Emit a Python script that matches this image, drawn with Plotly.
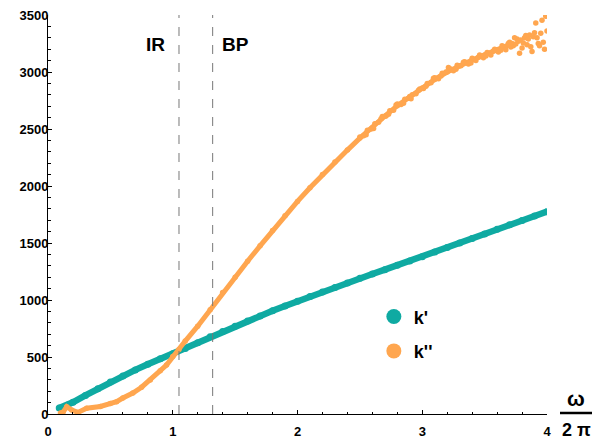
import plotly.graph_objects as go

# k' (storage)
kp_x = [0.09, 0.16, 0.2, 0.3, 0.4, 0.5, 0.6, 0.7, 0.8, 0.9, 1.0, 1.1, 1.2, 1.3, 1.4, 1.5,
        1.6, 1.7, 1.8, 1.9, 2.0, 2.1, 2.2, 2.3, 2.4, 2.5, 2.6, 2.7, 2.8, 2.9, 3.0,
        3.1, 3.2, 3.3, 3.4, 3.5, 3.6, 3.7, 3.8, 3.9, 4.0]
kp_y = [52, 79, 103, 163, 222, 280, 333, 387, 437, 485, 528, 575, 625, 678, 724, 770,
        815, 860, 905, 948, 990, 1030, 1070, 1110, 1150, 1190, 1228, 1266, 1304, 1342, 1380,
        1420, 1460, 1500, 1540, 1580, 1620, 1660, 1698, 1737, 1775]

# k'' (loss) main band
kpp_x = [0.10, 0.12, 0.15, 0.19, 0.24, 0.31, 0.42, 0.5, 0.55, 0.6, 0.68, 0.75, 0.82, 0.9,
         0.95, 1.0, 1.05, 1.1, 1.2, 1.3, 1.4, 1.5, 1.6, 1.7, 1.8, 1.9, 2.0, 2.1, 2.2,
         2.3, 2.4, 2.5, 2.6, 2.7, 2.8, 2.9, 3.0, 3.1, 3.2, 3.3, 3.4, 3.5, 3.6, 3.7]
kpp_y = [8, 15, 64, 35, 14, 50, 66, 92, 108, 140, 184, 235, 298, 380, 430, 505, 565, 640,
         770, 915, 1065, 1200, 1340, 1475, 1610, 1740, 1865, 1985, 2100, 2210, 2315, 2420,
         2510, 2612, 2705, 2785, 2860, 2935, 3000, 3055, 3105, 3150, 3195, 3240]

# k'' scattered points of the noisy high-frequency part
tail_x = [2.50, 2.53, 2.56, 2.59, 2.62, 2.65, 2.68, 2.71, 2.74, 2.77, 2.80, 2.83, 2.86, 2.89,
          2.92, 2.95, 2.98, 3.01, 3.04, 3.07, 3.10, 3.13, 3.16, 3.19, 3.22, 3.25, 3.28, 3.31,
          3.34, 3.37, 3.40, 3.43, 3.46, 3.49, 3.52, 3.55, 3.58, 3.61, 3.64, 3.67, 3.70, 3.73,
          3.76, 3.78, 3.80, 3.82, 3.84, 3.86, 3.88, 3.90, 3.91, 3.93, 3.95, 3.96, 3.98, 3.99,
          4.00, 3.87, 3.97, 3.74, 3.72, 3.83, 3.92,
          2.55, 2.61, 2.67, 2.73, 2.79, 2.85, 2.91, 2.97, 3.03, 3.09, 3.15, 3.21, 3.27, 3.33,
          3.39, 3.45, 3.51, 3.57, 3.63, 3.69, 3.75, 3.79, 3.81, 3.85, 3.89, 3.94, 3.77, 3.71]
tail_y = [2430, 2440, 2490, 2500, 2545, 2560, 2610, 2615, 2660, 2665, 2720, 2715, 2760, 2770,
          2800, 2810, 2850, 2855, 2900, 2905, 2950, 2940, 2990, 3000, 3030, 3010, 3060, 3055,
          3090, 3070, 3120, 3100, 3150, 3125, 3170, 3150, 3200, 3175, 3230, 3195, 3260, 3230,
          3290, 3165, 3210, 3300, 3240, 3325, 3180, 3345, 3430, 3250, 3340, 3455, 3200, 3490,
          3360, 3222, 3262, 3300, 3250, 3320, 3300,
          2450, 2505, 2590, 2630, 2710, 2725, 2765, 2840, 2875, 2945, 2965, 3040, 3025, 3085,
          3080, 3130, 3140, 3185, 3190, 3250, 3245, 3280, 3255, 3290, 3310, 3230, 3270, 3220]

region_x = [1.05, 1.32]
region_labels = ["IR", "BP"]
region_label_x = [0.86, 1.50]
region_label_y = 3240

TEAL = "#0FAAA2"
ORANGE = "#FFA64F"
FONT = "Liberation Sans"

fig = go.Figure()

fig.add_trace(go.Scatter(x=kp_x, y=kp_y, mode="lines+markers", showlegend=False,
                         line=dict(color=TEAL, width=6.5), marker=dict(color=TEAL, size=7)))
fig.add_trace(go.Scatter(x=kpp_x, y=kpp_y, mode="lines+markers", showlegend=False,
                         line=dict(color=ORANGE, width=5), marker=dict(color=ORANGE, size=5.5)))
fig.add_trace(go.Scatter(x=tail_x, y=tail_y, mode="markers", showlegend=False,
                         marker=dict(color=ORANGE, size=5.5)))

# legend entries
fig.add_trace(go.Scatter(x=[None], y=[None], mode="markers", name="k'", legendgroup="a",
                         marker=dict(color=TEAL, size=15)))
fig.add_trace(go.Scatter(x=[None], y=[None], mode="markers", name="k''", legendgroup="b",
                         marker=dict(color=ORANGE, size=15)))

for xv in region_x:
    fig.add_shape(type="line", xref="x", yref="paper", x0=xv, x1=xv, y0=0, y1=1,
                  line=dict(color="#777777", width=1, dash="dash"))
for lx, lab in zip(region_label_x, region_labels):
    fig.add_annotation(x=lx, y=region_label_y, xref="x", yref="y", text=f"<b>{lab}</b>",
                       showarrow=False, font=dict(family=FONT, size=19, color="black"))

# axis label as fraction omega / 2 pi
fig.add_annotation(xref="paper", yref="paper", x=(576 - 48) / 499, y=(414 - 398) / 399,
                   xanchor="center", yanchor="middle", text="<b>ω</b>",
                   showarrow=False, font=dict(family=FONT, size=21, color="black"))
fig.add_annotation(xref="paper", yref="paper", x=(576 - 48) / 499, y=(414 - 430) / 399,
                   xanchor="center", yanchor="middle", text="<b>2 π</b>",
                   showarrow=False, font=dict(family=FONT, size=18, color="black"))
fig.add_shape(type="line", xref="paper", yref="paper", x0=(560 - 48) / 499, x1=(592 - 48) / 499,
              y0=(414 - 413) / 399, y1=(414 - 413) / 399, line=dict(color="black", width=2.5))

axis_common = dict(showline=True, linecolor="black", linewidth=1, ticks="inside",
                   tickcolor="black", ticklen=4, showgrid=False, zeroline=False,
                   automargin=False,
                   tickfont=dict(family=FONT, size=13, color="black", weight="bold"))

fig.update_xaxes(range=[0, 4], dtick=1, tick0=0, ticklabelstandoff=5,
                 minor=dict(ticks="inside", dtick=0.2, ticklen=2.5, tickcolor="black"),
                 **axis_common)
fig.update_yaxes(range=[0, 3500], dtick=500, tick0=0, ticklabelstandoff=-4,
                 minor=dict(ticks="inside", dtick=100, ticklen=2.5, tickcolor="black"),
                 **axis_common)

fig.update_layout(
    width=595, height=441,
    margin=dict(l=48, r=48, t=15, b=27, autoexpand=False),
    plot_bgcolor="white", paper_bgcolor="white",
    legend=dict(x=0.653, y=0.29, xanchor="left", yanchor="top", tracegroupgap=8,
                font=dict(family=FONT, size=18, color="black", weight="bold"),
                bgcolor="rgba(0,0,0,0)"),
)

fig.write_html("out.html")
